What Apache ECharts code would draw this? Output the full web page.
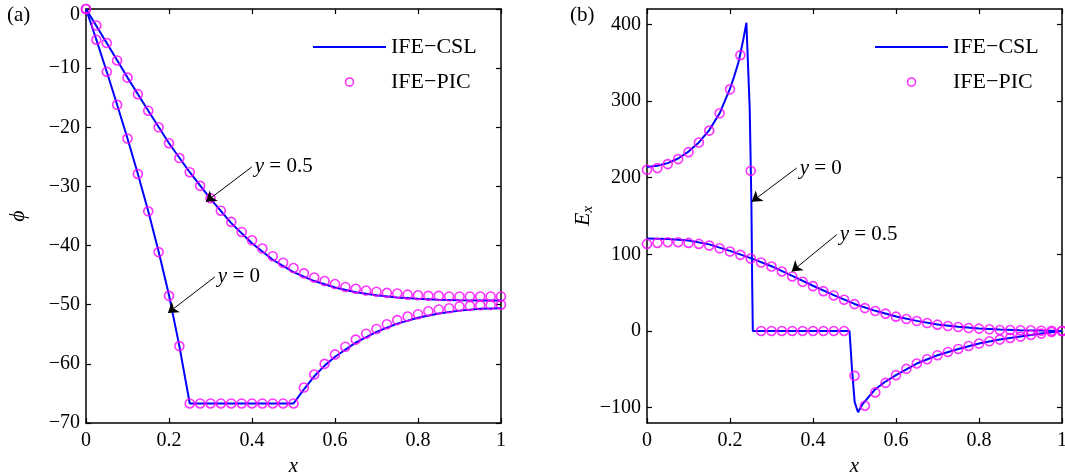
<!DOCTYPE html>
<html><head><meta charset="utf-8">
<script src="https://cdn.jsdelivr.net/npm/echarts@6/dist/echarts.min.js"></script>
<style>html,body{margin:0;padding:0;background:#fff}#c{width:1065px;height:476px}</style>
</head><body><div id="c"></div>
<script>
// ---- data ----
const xPIC = [0,0.025,0.05,0.075,0.1,0.125,0.15,0.175,0.2,0.225,0.25,0.275,0.3,0.325,0.35,0.375,0.4,0.425,0.45,0.475,0.5,
  0.525,0.55,0.575,0.6,0.625,0.65,0.675,0.7,0.725,0.75,0.775,0.8,0.825,0.85,0.875,0.9,0.925,0.95,0.975,1];

// (a) phi
const phiPIC_y0 = [0,-5.2,-10.6,-16.2,-21.9,-27.9,-34.2,-41.1,-48.5,-57.0,-66.7,-66.7,-66.7,-66.7,-66.7,-66.7,-66.7,-66.7,-66.7,-66.7,-66.7,
  -64.0,-61.8,-60.0,-58.4,-57.1,-55.9,-54.9,-54.1,-53.3,-52.6,-52.0,-51.6,-51.1,-50.8,-50.6,-50.3,-50.2,-50.1,-50.05,-50.0];
const phiPIC_y05 = [0,-2.8,-5.75,-8.7,-11.6,-14.4,-17.2,-20.0,-22.7,-25.2,-27.6,-29.9,-32.0,-34.1,-36.0,-37.7,-39.1,-40.5,-41.8,-42.9,-43.8,
  -44.7,-45.4,-46.0,-46.5,-47.0,-47.3,-47.6,-47.8,-48.0,-48.1,-48.3,-48.4,-48.5,-48.5,-48.6,-48.6,-48.6,-48.6,-48.6,-48.6];
const phiCSL_y0_x = [0,0.025,0.05,0.075,0.1,0.125,0.15,0.175,0.2,0.225,0.25,0.5,0.525,0.55,0.575,0.6,0.65,0.7,0.75,0.8,0.85,0.9,0.95,1];
const phiCSL_y0   = [0,-5.2,-10.6,-16.2,-21.9,-27.9,-34.2,-41.0,-48.4,-57.0,-66.7,-66.7,-64.3,-62.1,-60.3,-58.8,-56.4,-54.6,-53.2,-52.2,-51.5,-51.0,-50.7,-50.6];
const phiCSL_y05_x = [0,0.05,0.1,0.15,0.2,0.25,0.3,0.35,0.4,0.45,0.5,0.55,0.6,0.65,0.7,0.75,0.8,0.85,0.9,0.95,1];
const phiCSL_y05   = [0,-5.75,-11.6,-17.2,-22.7,-27.6,-32.1,-36.2,-39.6,-42.4,-44.5,-46.0,-47.1,-47.9,-48.4,-48.8,-49.0,-49.15,-49.25,-49.3,-49.3];

// (b) Ex
const exPIC_y0 = [210.3,212.5,217.7,224.2,233.3,245.8,261.4,284,315.2,359.8,209,0,0,0,0,0,0,0,0,0,-58.5,
  -97.5,-80.1,-67.6,-57.6,-49.4,-42.4,-36.8,-31.6,-27.3,-23.4,-19.5,-16.4,-13.4,-11.2,-9.1,-7.3,-5.2,-3.4,-1.3,0];
const exPIC_y05 = [113.6,114.9,115.8,115.8,114.9,113.6,111.4,107.9,103.6,99.3,94.5,89.3,84.1,77.6,71.1,64.2,58.5,52,46.4,40.8,35.1,
  29.9,26,22.6,18.7,15.6,13,10.4,8.3,6.5,5.2,3.9,3.1,2.2,1.3,1.3,0.9,0.9,0.4,0.4,0];
const exCSL_y0_x = [0,0.025,0.05,0.075,0.1,0.125,0.15,0.175,0.2,0.21,0.22,0.225,0.232,0.2395,0.2475,0.2515,0.2535,0.255,0.488,0.494,0.5005,0.5085,0.52,0.548,0.573,0.6,0.65,0.7,0.75,0.8,0.85,0.9,0.95,1];
const exCSL_y0   = [214,215.5,219,225,234,246,262,284,316,332,350,362,380,402,290,170,60,0,0,-50,-93,-106,-95,-77,-66.5,-57.6,-42.4,-31.6,-23.4,-16.4,-11.2,-7.3,-3.4,0];
const exCSL_y05_x = [0,0.05,0.1,0.15,0.2,0.25,0.3,0.35,0.4,0.45,0.5,0.55,0.6,0.65,0.7,0.75,0.8,0.85,0.9,0.95,1];
const exCSL_y05   = [120.5,120,118,113,104.5,95,84.5,72,59,46.8,35.3,26.3,19,13.2,8.6,5.5,3.4,2,1.1,0.5,0];

const xTicks = [0,0.2,0.4,0.6,0.8,1];
const phiTicks = [0,-10,-20,-30,-40,-50,-60,-70];
const exTicks = [-100,0,100,200,300,400];

// annotation anchors (data coords)
const annA = [
  {label:'0.5', start:[0.3995,-26.7], tip:[0.2888,-32.6]},
  {label:'0',   start:[0.3105,-45.3], tip:[0.1974,-51.4]}
];
const annB = [
  {label:'0',   start:[0.3607,212.6], tip:[0.2523,168.6]},
  {label:'0.5', start:[0.4571,125.7], tip:[0.3487,77.6]}
];

// ---- build ----
const FONT = "'Liberation Serif','Times New Roman',serif";
const BLUE = '#0000ff', MAG = '#ff00ff';
const zip = (a,b) => a.map((v,i)=>[v,b[i]]);
const fmt = v => String(parseFloat(Number(v).toFixed(3))).replace('-', '\u2212');
const axLine = {show:true, onZero:false, lineStyle:{color:'#000', width:1.5}};
const axTick = {show:true, inside:true, length:5, lineStyle:{color:'#000', width:1.2}};
const lbl = {color:'#000', fontSize:20, fontFamily:FONT, formatter:fmt};

function xAxes(g){
  return [
    {gridIndex:g, type:'value', min:0, max:1, interval:0.2, position:'bottom', axisLine:axLine, axisTick:axTick,
     axisLabel:Object.assign({margin:8}, lbl), splitLine:{show:false},
     name:'x', nameLocation:'middle', nameGap:31, nameTextStyle:{color:'#000', fontSize:21, fontStyle:'italic', fontFamily:FONT}},
    {gridIndex:g, type:'value', min:0, max:1, interval:0.2, position:'top', axisLine:axLine, axisTick:axTick,
     axisLabel:{show:false}, splitLine:{show:false}}
  ];
}
const yAxes = [
  {gridIndex:0, type:'value', min:-70, max:0, interval:10, position:'left', axisLine:axLine, axisTick:axTick,
   axisLabel:Object.assign({margin:6}, lbl, {
     formatter: v => (v === 0 ? '{t|0}' : fmt(v)),
     rich:{t:{padding:[11,0,0,0], fontSize:20, fontFamily:FONT, color:'#000'}}}),
   splitLine:{show:false},
   name:'\u03d5', nameLocation:'middle', nameGap:57, nameTextStyle:{color:'#000', fontSize:22, fontStyle:'italic', fontFamily:FONT}},
  {gridIndex:0, type:'value', min:-70, max:0, interval:10, position:'right', axisLine:axLine, axisTick:axTick,
   axisLabel:{show:false}, splitLine:{show:false}},
  {gridIndex:1, type:'value', min:-120, max:420, position:'left', axisLine:axLine,
   axisTick:Object.assign({customValues:exTicks}, axTick),
   axisLabel:Object.assign({margin:6, customValues:exTicks}, lbl), splitLine:{show:false},
   name:'{e|E}{s|x}', nameLocation:'middle', nameGap:50,
   nameTextStyle:{color:'#000', fontFamily:FONT, rich:{
     e:{fontSize:22, fontStyle:'italic', fontFamily:FONT, color:'#000', lineHeight:26},
     s:{fontSize:15, fontStyle:'italic', fontFamily:FONT, color:'#000', verticalAlign:'bottom', lineHeight:14}}}},
  {gridIndex:1, type:'value', min:-120, max:420, position:'right', axisLine:axLine,
   axisTick:Object.assign({customValues:exTicks}, axTick),
   axisLabel:{show:false}, splitLine:{show:false}}
];

function annotations(list){
  const lines = list.map(a => [{coord:a.start, symbol:'none'}, {coord:a.tip, symbol:'arrow'}]);
  const pts = list.map(a => ({coord:a.start, label:{formatter:'{i|y} = ' + a.label}}));
  return {
    markLine:{silent:true, animation:false, symbolSize:10, lineStyle:{color:'#000', width:1, type:'solid'},
      label:{show:false}, emphasis:{disabled:true}, data:lines},
    markPoint:{silent:true, animation:false, symbol:'circle', symbolSize:0, itemStyle:{color:'transparent'},
      label:{show:true, position:'right', distance:3, color:'#000', fontSize:21, fontFamily:FONT,
        rich:{i:{fontStyle:'italic', fontSize:21, fontFamily:FONT, color:'#000'}}},
      data:pts}
  };
}

function lineSeries(xi, yi, data, extra){
  return Object.assign({type:'line', name:'IFE\u2212CSL', xAxisIndex:xi, yAxisIndex:yi, data:data,
    symbol:'none', showSymbol:false, lineStyle:{color:BLUE, width:2}, itemStyle:{color:BLUE},
    emphasis:{disabled:true}, z:2}, extra||{});
}
function picSeries(xi, yi, data){
  return {type:'scatter', name:'IFE\u2212PIC', xAxisIndex:xi, yAxisIndex:yi, data:data,
    symbol:'circle', symbolSize:9, itemStyle:{color:'transparent', borderColor:MAG, borderWidth:1.6},
    emphasis:{disabled:true}, z:3};
}

const legendBase = {orient:'vertical', itemWidth:73, itemHeight:8, itemGap:13, padding:0, selectedMode:false,
  textStyle:{color:'#000', fontSize:22, fontFamily:FONT},
  data:[
    {name:'IFE\u2212CSL', icon:'path://M0,0H73V2H0Z', itemStyle:{color:BLUE, borderWidth:0}},
    {name:'IFE\u2212PIC', icon:'circle', itemStyle:{color:'transparent', borderColor:MAG, borderWidth:1.6}}
  ]};

const option = {
  animation:false,
  backgroundColor:'#fff',
  title:[
    {text:'(a)', left:7, top:5, padding:0, textStyle:{color:'#000', fontSize:21, fontWeight:'normal', fontFamily:FONT}},
    {text:'(b)', left:570, top:5, padding:0, textStyle:{color:'#000', fontSize:21, fontWeight:'normal', fontFamily:FONT}}
  ],
  legend:[
    Object.assign({left:313, top:36}, legendBase),
    Object.assign({left:875, top:36}, legendBase)
  ],
  grid:[
    {left:86, top:9, width:415, height:414, outerBoundsMode:'none', containLabel:false},
    {left:647, top:9, width:415, height:414, outerBoundsMode:'none', containLabel:false}
  ],
  xAxis: xAxes(0).concat(xAxes(1)),
  yAxis: yAxes,
  series:[
    lineSeries(0,0, zip(phiCSL_y0_x, phiCSL_y0), annotations(annA)),
    lineSeries(0,0, zip(phiCSL_y05_x, phiCSL_y05)),
    picSeries(0,0, zip(xPIC, phiPIC_y0)),
    picSeries(0,0, zip(xPIC, phiPIC_y05)),
    lineSeries(2,2, zip(exCSL_y0_x, exCSL_y0), annotations(annB)),
    lineSeries(2,2, zip(exCSL_y05_x, exCSL_y05)),
    picSeries(2,2, zip(xPIC, exPIC_y0)),
    picSeries(2,2, zip(xPIC, exPIC_y05))
  ]
};
const chart = echarts.init(document.getElementById('c'), null, {renderer:'canvas'});
chart.setOption(option);
</script>
</body></html>
